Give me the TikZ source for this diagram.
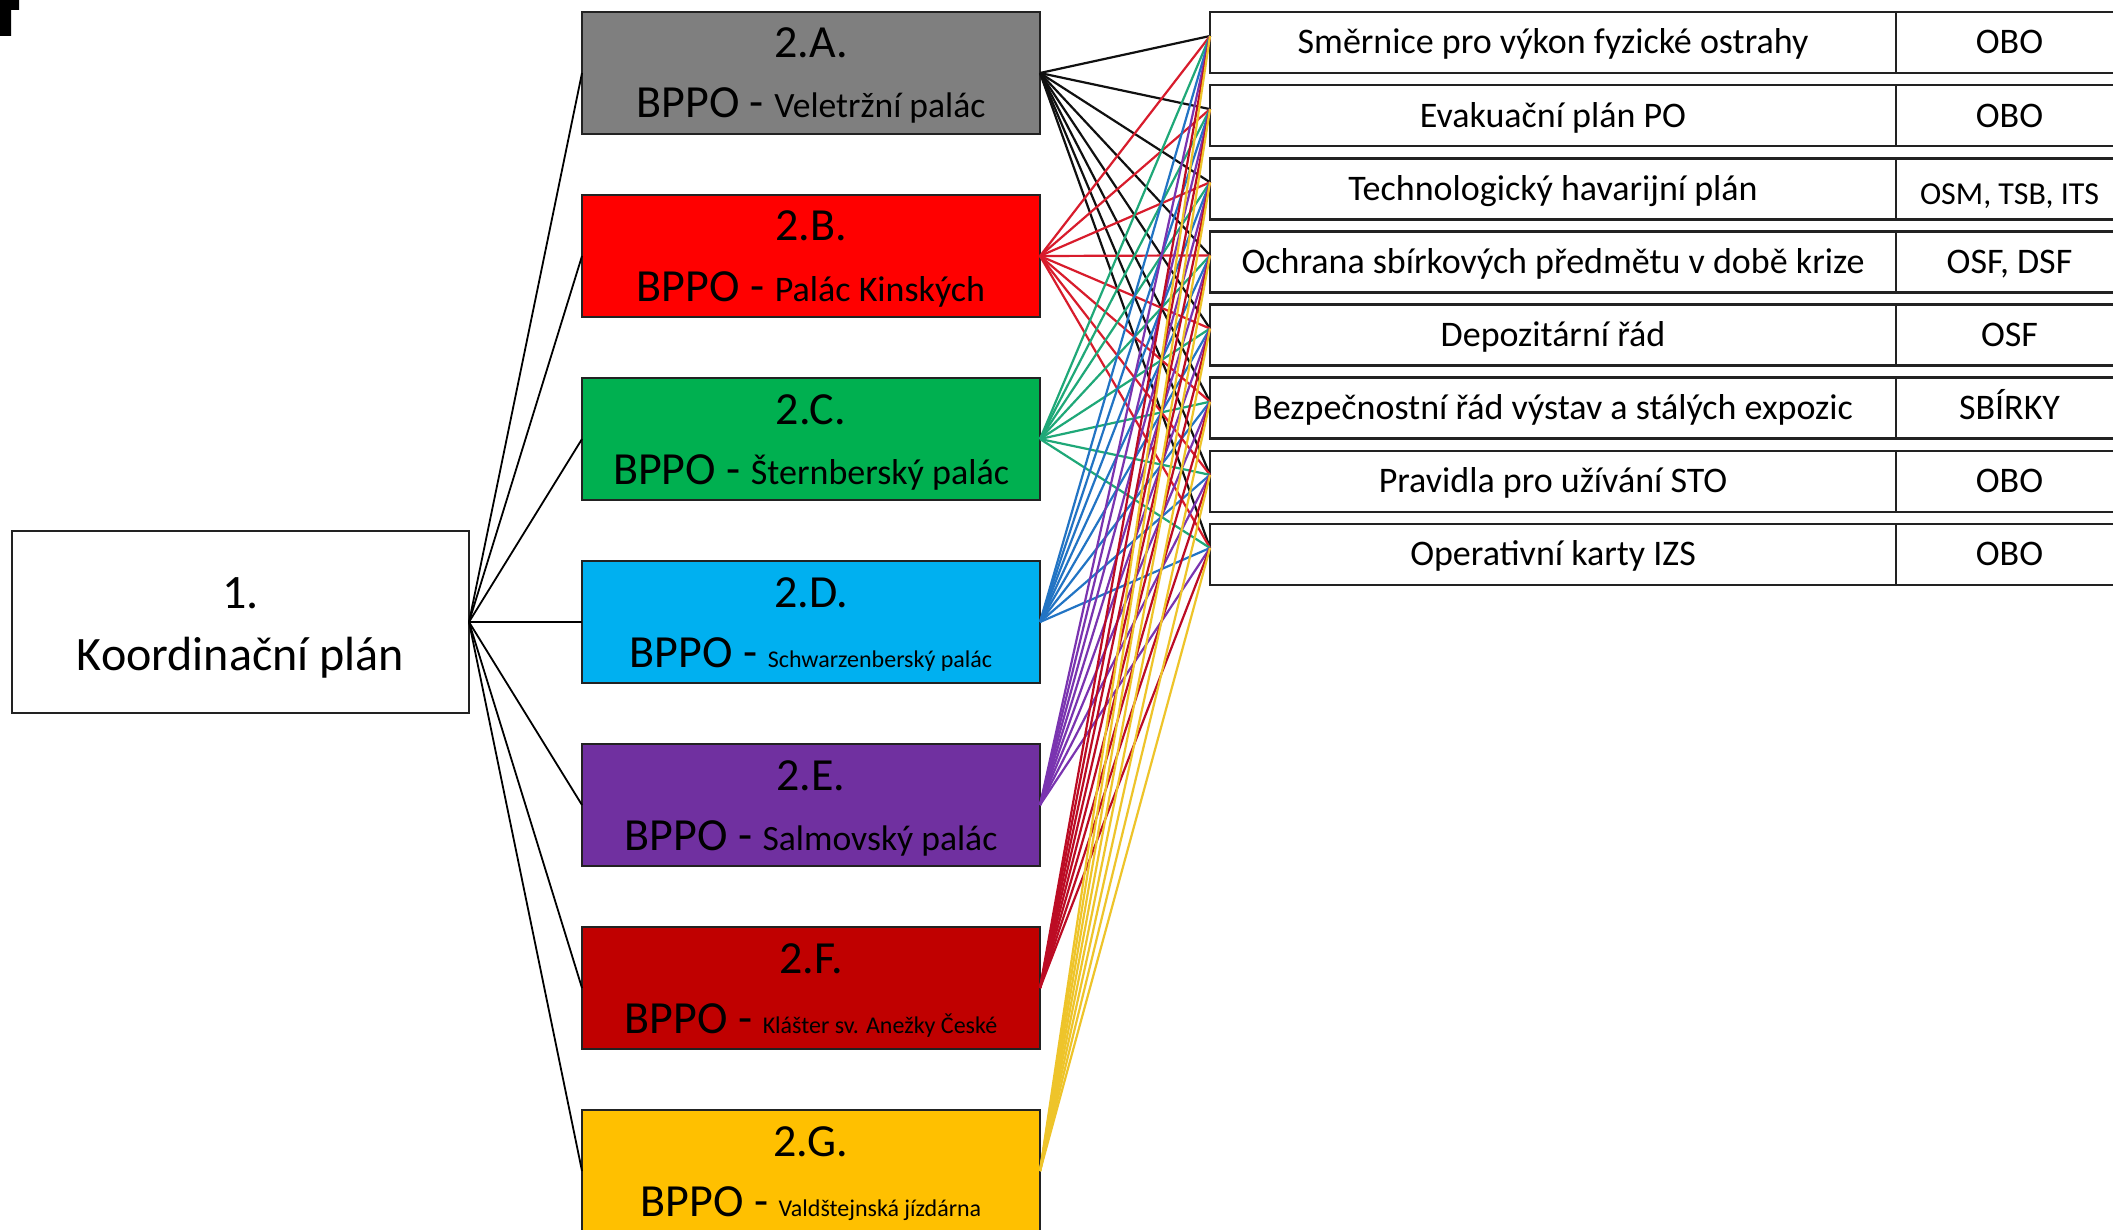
\documentclass[tikz,border=0pt]{standalone}
\usepackage{fontspec}
\setmainfont{Carlito}
\usetikzlibrary{calc}
\definecolor{fA}{HTML}{7F7F7F}
\definecolor{fB}{HTML}{FF0000}
\definecolor{fC}{HTML}{00B050}
\definecolor{fD}{HTML}{00B0F0}
\definecolor{fE}{HTML}{7030A0}
\definecolor{fF}{HTML}{C00000}
\definecolor{fG}{HTML}{FFC000}
\definecolor{lA}{HTML}{101010}
\definecolor{lB}{HTML}{D81C2C}
\definecolor{lC}{HTML}{1FA878}
\definecolor{lD}{HTML}{2274C4}
\definecolor{lE}{HTML}{7A34B0}
\definecolor{lF}{HTML}{BC0C24}
\definecolor{lG}{HTML}{EEC42A}
\definecolor{edge}{HTML}{222222}
\newcommand{\bigf}{\fontsize{23pt}{28pt}\selectfont}
\newcommand{\subf}[1]{\fontsize{#1pt}{#1pt}\selectfont}
\begin{document}
\begin{tikzpicture}[x=0.5pt,y=-0.5pt,
  palbox/.style={draw=edge,line width=1.3pt,rectangle,anchor=north west,minimum width=229pt,minimum height=61pt,inner sep=0pt,outer sep=0pt},
  mainbox/.style={draw=edge,line width=1.2pt,rectangle,anchor=north west,minimum width=228.5pt,minimum height=91pt,inner sep=0pt,outer sep=0pt,fill=white},
  rowbox/.style={draw=edge,line width=1.3pt,rectangle,anchor=north west,minimum width=343pt,minimum height=30.5pt,inner sep=0pt,outer sep=0pt,fill=white},
  codebox/.style={draw=edge,line width=1.3pt,rectangle,anchor=north west,minimum width=115pt,minimum height=30.5pt,inner sep=0pt,outer sep=0pt,fill=white},
  txt/.style={anchor=base,inner sep=0pt,outer sep=0pt},
  rowtxt/.style={anchor=base,inner sep=0pt,font=\fontsize{18pt}{20pt}\selectfont},
  lconn/.style={line width=0.9pt,draw=black},
  rconn/.style={line width=1.1pt}
]
\useasboundingbox (0,0) rectangle (2113,1230);
\clip (0,0) rectangle (2113,1230);
\fill[white] (0,0) rectangle (2113,1230);
% corner mark
\fill[black] (0,0) -- (19,0) -- (19,10) -- (11,10) -- (11,36) -- (0,36) -- cycle;

% main box
\node[mainbox] (m) at (12,531) {};
\node[txt,font=\fontsize{24pt}{28pt}\selectfont] (m1) at ($(m.north)+(0,77)$) {1.};
\node[txt,font=\fontsize{24pt}{28pt}\selectfont] (m2) at ($(m.north)+(0,139)$) {Koordinační plán};

% palace boxes
\node[palbox,fill=fA] (bA) at (582,12) {};
\node[palbox,fill=fB] (bB) at (582,195) {};
\node[palbox,fill=fC] (bC) at (582,378) {};
\node[palbox,fill=fD] (bD) at (582,561) {};
\node[palbox,fill=fE] (bE) at (582,744) {};
\node[palbox,fill=fF] (bF) at (582,927) {};
\node[palbox,fill=fG] (bG) at (582,1110) {};

\node[txt,font=\bigf] (tA1) at ($(bA.north)+(0,46)$) {2.A.};
\node[txt,font=\bigf] (tA2) at ($(bA.north)+(0,106)$) {BPPO - {\subf{17.8}Veletržní palác}};
\node[txt,font=\bigf] (tB1) at ($(bB.north)+(0,46)$) {2.B.};
\node[txt,font=\bigf] (tB2) at ($(bB.north)+(0,106)$) {BPPO - {\subf{18}Palác Kinských}};
\node[txt,font=\bigf] (tC1) at ($(bC.north)+(0,46)$) {2.C.};
\node[txt,font=\bigf] (tC2) at ($(bC.north)+(0,106)$) {BPPO - {\subf{18}Šternberský palác}};
\node[txt,font=\bigf] (tD1) at ($(bD.north)+(0,46)$) {2.D.};
\node[txt,font=\bigf] (tD2) at ($(bD.north)+(0,106)$) {BPPO - {\subf{12}Schwarzenberský palác}};
\node[txt,font=\bigf] (tE1) at ($(bE.north)+(0,46)$) {2.E.};
\node[txt,font=\bigf] (tE2) at ($(bE.north)+(0,106)$) {BPPO - {\subf{17.8}Salmovský palác}};
\node[txt,font=\bigf] (tF1) at ($(bF.north)+(0,46)$) {2.F.};
\node[txt,font=\bigf] (tF2) at ($(bF.north)+(0,106)$) {BPPO - {\subf{12}Klášter sv. Anežky České}};
\node[txt,font=\bigf] (tG1) at ($(bG.north)+(0,46)$) {2.G.};
\node[txt,font=\bigf] (tG2) at ($(bG.north)+(0,106)$) {BPPO - {\subf{12}Valdštejnská jízdárna}};

% left connectors
\foreach \b in {A,B,C,D,E,F,G}
  \draw[lconn] (m.east) -- (b\b.west);

% table rows
\foreach \i/\t/\c in {
  1/Směrnice pro výkon fyzické ostrahy/OBO,
  2/Evakuační plán PO/OBO,
  3/Technologický havarijní plán/{},
  4/{Ochrana sbírkových předmětu v době krize}/{OSF, DSF},
  5/Depozitární řád/OSF,
  6/Bezpečnostní řád výstav a stálých expozic/SBÍRKY,
  7/Pravidla pro užívání STO/OBO,
  8/Operativní karty IZS/OBO}{
  \pgfmathsetmacro{\top}{12+73.14*(\i-1)}
  \node[rowbox] (r\i) at (1210,\top) {};
  \node[codebox] (c\i) at (1896,\top) {};
  \node[rowtxt] (rt\i) at ($(r\i.north)+(0,42)$) {\t};
  \node[rowtxt] (ct\i) at ($(c\i.north west)+(113.5,42)$) {\c};
  \coordinate (p\i) at ($(r\i.north west)+(0,24)$);
}
\node[txt,font=\fontsize{16pt}{18pt}\selectfont] (ct3b) at ($(c3.north west)+(113.5,46)$) {OSM, TSB, ITS};

% right connectors
\foreach \b in {A,B,C,D,E,F,G}
  \foreach \r in {1,...,8}
    \draw[rconn,draw=l\b] (b\b.east) -- (p\r);
\end{tikzpicture}
\end{document}
